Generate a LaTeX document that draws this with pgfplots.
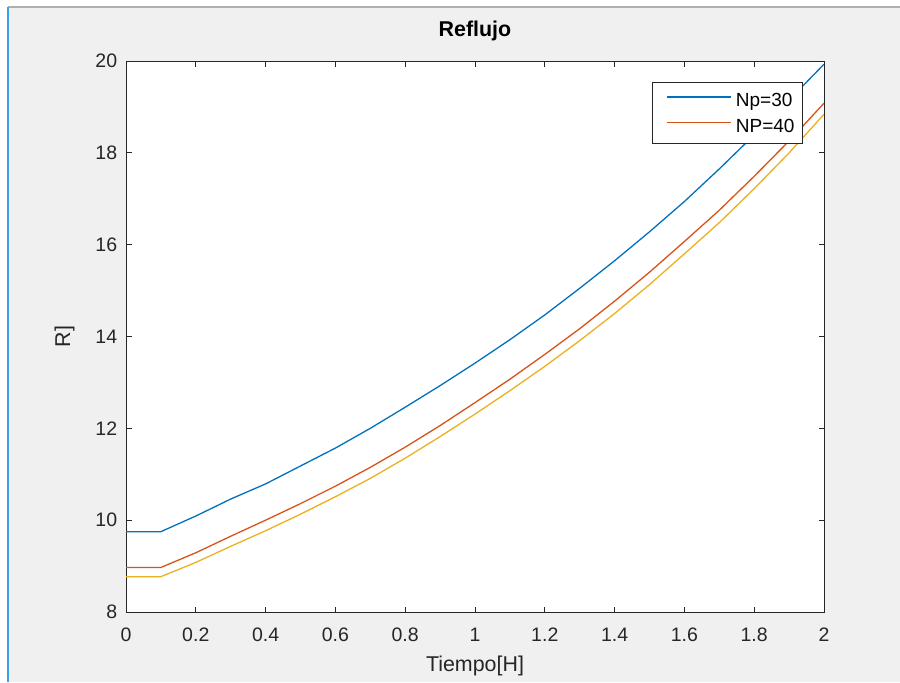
\documentclass[border=0pt]{standalone}
\usepackage{fontspec}
\setmainfont{Liberation Sans}
\usepackage{pgfplots}
\usepackage{pgfplotstable}
\pgfplotsset{compat=1.18}
\definecolor{mblue}{rgb}{0,0.447,0.741}
\definecolor{mred}{rgb}{0.85,0.325,0.098}
\definecolor{myel}{rgb}{0.929,0.694,0.125}
\definecolor{axc}{RGB}{38,38,38}
\definecolor{figbg}{RGB}{240,240,240}
\definecolor{frameblue}{RGB}{60,160,230}
\definecolor{framegray}{RGB}{175,175,175}

\pgfplotstableread{
t   a      b      c
0   9.75   8.97   8.77
0.1 9.75   8.97   8.77
0.2 10.09  9.29   9.08
0.3 10.46  9.65   9.43
0.4 10.79  10.00  9.77
0.5 11.18  10.36  10.13
0.6 11.57  10.74  10.51
0.7 12.00  11.15  10.91
0.8 12.46  11.59  11.35
0.9 12.93  12.06  11.82
1.0 13.42  12.56  12.31
1.1 13.93  13.07  12.82
1.2 14.47  13.61  13.35
1.3 15.05  14.17  13.91
1.4 15.65  14.77  14.50
1.5 16.28  15.40  15.13
1.6 16.94  16.07  15.80
1.7 17.65  16.75  16.48
1.8 18.39  17.49  17.22
1.9 19.15  18.26  18.00
2.0 19.93  19.08  18.84
}\datatable

\begin{document}
\begin{tikzpicture}
\path[use as bounding box] (0,0) rectangle (450pt,341pt);
\fill[white] (0,0) rectangle (450pt,341pt);
\fill[figbg] (4pt,0) rectangle (450pt,337.5pt);
\draw[framegray, line width=0.6pt] (4pt,337.5pt) -- (450pt,337.5pt);
\draw[frameblue, line width=0.8pt] (4pt,0) -- (4pt,337.5pt);
\begin{axis}[
  at={(63pt,35pt)}, anchor=south west,
  scale only axis, width=349pt, height=275.5pt,
  xmin=0, xmax=2, ymin=8, ymax=20,
  xtick={0,0.2,0.4,0.6,0.8,1,1.2,1.4,1.6,1.8,2},
  ytick={8,10,12,14,16,18,20},
  tick align=inside, xtick pos=both, ytick pos=both,
  major tick length=2.75pt,
  axis background/.style={fill=white},
  axis line style={axc, line width=0.5pt},
  tick style={axc, line width=0.5pt},
  /pgf/number format/assume math mode=true,
  tick label style={font=\fontsize{9.75}{11}\selectfont, text=axc},
  xticklabel style={anchor=base, yshift=-14.5pt},
  yticklabel style={anchor=east, inner sep=0pt, xshift=-4.25pt},
  title={\textbf{Reflujo}},
  title style={at={(axis description cs:0.5,1.0218)}, anchor=base, font=\fontsize{10.7}{13}\selectfont},
  xlabel={Tiempo[H]},
  xlabel style={at={(axis description cs:0.5,-0.1071)}, anchor=base, font=\fontsize{10.7}{13}\selectfont, text=axc},
  ylabel={R]},
  ylabel style={at={(axis description cs:-0.0802,0.5)}, rotate=0, anchor=base, font=\fontsize{10.7}{13}\selectfont, text=axc},
  legend style={at={(0.970,0.962)}, anchor=north east, draw=axc, line width=0.5pt, fill=white,
    font=\fontsize{9.5}{11}\selectfont, inner xsep=2pt, inner ysep=2.5pt,
    row sep=0pt, column sep=0pt,
    nodes={inner xsep=2pt, inner ysep=0pt, text height=9.75pt, text depth=3pt}},
  legend cell align=left,
  legend image code/.code={\path[draw=none,fill=none] (-5.5pt,1.6pt) -- (0pt,1.6pt);\draw[#1, line width=0.65pt] (0pt,1.6pt) -- (32pt,1.6pt);},
]
\addplot[mblue, line width=0.65pt] table[x=t, y=a] {\datatable};
\addlegendentry{Np=30}
\addplot[mred, line width=0.65pt] table[x=t, y=b] {\datatable};
\addlegendentry{NP=40}
\addplot[myel, line width=0.65pt, forget plot] table[x=t, y=c] {\datatable};
\end{axis}
\end{tikzpicture}
\end{document}
